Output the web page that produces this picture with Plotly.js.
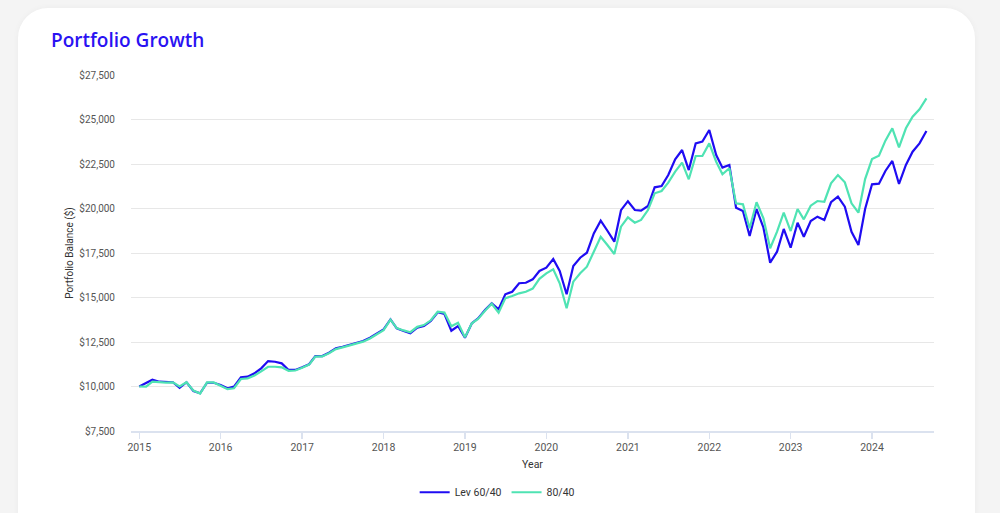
<!DOCTYPE html>
<html>
<head>
<meta charset="utf-8">
<script src="https://cdn.plot.ly/plotly-3.0.1.min.js"></script>
<style>
  html, body { margin: 0; padding: 0; width: 1000px; height: 513px; overflow: hidden; background: #f4f4f4; }
  #card { position: absolute; left: 18px; top: 8px; width: 957px; height: 600px; background: #ffffff; border-radius: 30px; box-shadow: 0 0 6px rgba(0,0,0,0.04); }
  #chart { position: absolute; left: 0; top: 0; width: 1000px; height: 513px; }
</style>
</head>
<body>
<div id="card"></div>
<div id="chart"></div>
<script>
// Monthly balances, first point Jan 2015, last point Sep 2024
const startYear = 2015;
const lev6040 = [
  10000, 10180, 10380, 10270, 10240, 10240, 9920, 10240, 9750, 9620, 10210, 10210,
  10085, 9900, 9990, 10515, 10550, 10740, 11020, 11430, 11390, 11300, 10930, 10930,
  11080, 11250, 11710, 11710, 11900, 12145, 12235, 12330, 12460, 12555, 12740, 12990,
  13210, 13775, 13270, 13120, 12990, 13300, 13400, 13680, 14170, 14075, 13135, 13400,
  12740, 13550, 13830, 14300, 14675, 14340, 15180, 15325, 15800, 15830, 16020, 16490,
  16675, 17160, 16490, 15180, 16770, 17235, 17515, 18600, 19315, 18750, 18135, 19905,
  20410, 19915, 19880, 20140, 21190, 21265, 21880, 22765, 23285, 22160, 23660, 23755,
  24410, 23005, 22295, 22445, 20045, 19860, 18455, 19970, 18920, 16955, 17575, 18850,
  17800, 19200, 18415, 19300, 19540, 19355, 20350, 20665, 20100, 18695, 17950, 19970,
  21360, 21395, 22110, 22670, 21380, 22445, 23190, 23660, 24355
];
const p8040 = [
  10000, 9990, 10270, 10240, 10220, 10230, 10000, 10240, 9770, 9600, 10230, 10230,
  10050, 9850, 9900, 10420, 10460, 10620, 10850, 11110, 11110, 11080, 10880, 10900,
  11050, 11230, 11680, 11690, 11870, 12100, 12200, 12300, 12430, 12520, 12700, 12950,
  13170, 13760, 13280, 13150, 13050, 13350, 13450, 13720, 14200, 14150, 13380, 13585,
  12760, 13550, 13800, 14250, 14650, 14150, 14955, 15085, 15235, 15325, 15500, 16050,
  16360, 16585, 15800, 14395, 15890, 16360, 16730, 17575, 18415, 17950, 17445, 18980,
  19505, 19205, 19355, 19915, 20855, 20985, 21450, 22070, 22575, 21640, 22950, 22950,
  23660, 22630, 21920, 22260, 20290, 20235, 18890, 20350, 19450, 17765, 18695, 19765,
  18735, 19970, 19390, 20160, 20420, 20380, 21415, 21880, 21470, 20290, 19765, 21655,
  22780, 22965, 23810, 24505, 23435, 24505, 25160, 25575, 26190
];
const seriesNames = ['Lev 60/40', '80/40'];
const yTicks = [7500, 10000, 12500, 15000, 17500, 20000, 22500, 25000, 27500];
const yTickText = yTicks.map(v => '$' + v.toLocaleString('en-US'));

const months = lev6040.map((_, i) => {
  const y = startYear + Math.floor(i / 12);
  const m = (i % 12) + 1;
  return y + '-' + String(m).padStart(2, '0') + '-01';
});

const traces = [
  { x: months, y: lev6040, name: seriesNames[0], type: 'scatter', mode: 'lines',
    line: { color: '#1f0cf2', width: 2.2 }, hoverinfo: 'skip' },
  { x: months, y: p8040, name: seriesNames[1], type: 'scatter', mode: 'lines',
    line: { color: '#4fe3b3', width: 2.2 }, hoverinfo: 'skip' }
];

const layout = {
  width: 1000, height: 513,
  paper_bgcolor: 'rgba(0,0,0,0)', plot_bgcolor: 'rgba(0,0,0,0)',
  margin: { l: 131, r: 66, t: 75, b: 82, autoexpand: false },
  font: { family: 'Roboto, sans-serif', size: 10, color: '#555555' },
  title: {
    text: 'Portfolio Growth',
    font: { family: '"Open Sans", sans-serif', size: 19, color: '#2a12f2', weight: 600 },
    x: 0.051, xref: 'container', xanchor: 'left',
    y: 1 - 40 / 513, yref: 'container', yanchor: 'middle'
  },
  xaxis: {
    type: 'date',
    range: ['2014-11-25', '2024-10-05'],
    dtick: 'M12', tick0: '2015-01-01', tickformat: '%Y',
    showgrid: false, zeroline: false,
    showline: true, linecolor: '#dbe2ef', linewidth: 1.5,
    ticks: 'outside', ticklen: 6, tickcolor: '#dbe2ef', tickwidth: 1.5,
    tickfont: { size: 10.5, color: '#555555' },
    title: { text: 'Year', font: { size: 10.5, color: '#333333' }, standoff: 7 }
  },
  yaxis: {
    range: [7500, 27500],
    tickmode: 'array', tickvals: yTicks, ticktext: yTickText,
    showgrid: true, gridcolor: '#e7e7e7', gridwidth: 1,
    zeroline: false, showline: false,
    ticks: 'outside', ticklen: 13, tickcolor: 'rgba(0,0,0,0)',
    tickfont: { size: 10, color: '#555555' },
    title: { text: 'Portfolio Balance ($)', font: { size: 10, color: '#333333' }, standoff: 3 }
  },
  showlegend: true,
  legend: {
    orientation: 'h', x: 0.456, xanchor: 'center', y: -0.172, yanchor: 'middle',
    font: { size: 10.5, color: '#333333' }, bgcolor: 'rgba(0,0,0,0)'
  }
};

Plotly.newPlot('chart', traces, layout, { displayModeBar: false, staticPlot: true });
</script>
</body>
</html>
